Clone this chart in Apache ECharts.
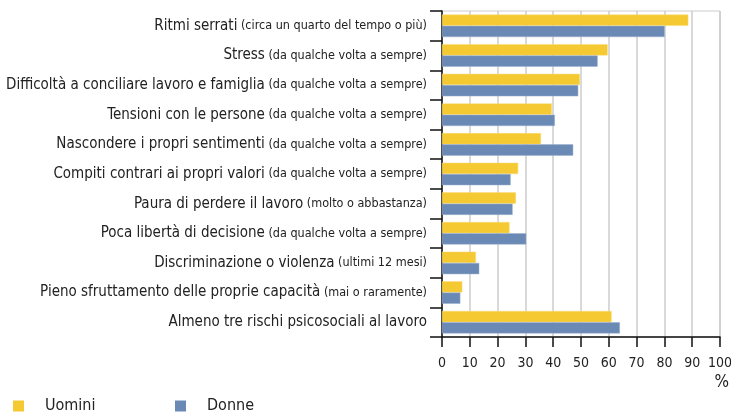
<!DOCTYPE html>
<html>
<head>
<meta charset="utf-8">
<script src="https://cdn.jsdelivr.net/npm/echarts@6/dist/echarts.min.js"></script>
<style>
  html, body { margin: 0; padding: 0; background: #fff; }
  #main { width: 731px; height: 412px; }
</style>
</head>
<body>
<div id="main"></div>
<script>
// categorie (dall'alto verso il basso)
var labels = [
  'Ritmi serrati',
  'Stress',
  'Difficoltà a conciliare lavoro e famiglia',
  'Tensioni con le persone',
  'Nascondere i propri sentimenti',
  'Compiti contrari ai propri valori',
  'Paura di perdere il lavoro',
  'Poca libertà di decisione',
  'Discriminazione o violenza',
  'Pieno sfruttamento delle proprie capacità',
  'Almeno tre rischi psicosociali al lavoro'
];
var notes = [
  '(circa un quarto del tempo o più)',
  '(da qualche volta a sempre)',
  '(da qualche volta a sempre)',
  '(da qualche volta a sempre)',
  '(da qualche volta a sempre)',
  '(da qualche volta a sempre)',
  '(molto o abbastanza)',
  '(da qualche volta a sempre)',
  '(ultimi 12 mesi)',
  '(mai o raramente)',
  ''
];
var uomini = [88.6, 59.6, 49.6, 39.5, 35.6, 27.4, 26.6, 24.3, 12.2, 7.3, 61];
var donne  = [80.1, 56, 49, 40.6, 47.2, 24.7, 25.4, 30.3, 13.4, 6.6, 64];
var xTicks = [0, 10, 20, 30, 40, 50, 60, 70, 80, 90, 100];

var font = "'Liberation Sans Narrow', 'DejaVu Sans Condensed', sans-serif";
var cats = labels.map(function (l, i) { return i; });

var myChart = echarts.init(document.getElementById('main'));

var option = {
  animation: false,
  color: ['#F5C932', '#6A8AB5'],
  textStyle: { fontFamily: font },
  title: {
    text: '%',
    right: -3,
    top: 369,
    textStyle: { fontFamily: font, fontSize: 17, fontWeight: 'normal', color: '#222' }
  },
  legend: [
    {
      left: 8, top: 393,
      itemWidth: 11, itemHeight: 11, itemGap: 0,
      icon: 'rect',
      itemStyle: { borderWidth: 0 },
      data: ['Uomini'],
      textStyle: { fontFamily: font, fontSize: 16, color: '#222', padding: [0, 0, 0, 16] }
    },
    {
      left: 170, top: 393,
      itemWidth: 11, itemHeight: 11, itemGap: 0,
      icon: 'rect',
      itemStyle: { borderWidth: 0 },
      data: ['Donne'],
      textStyle: { fontFamily: font, fontSize: 16, color: '#222', padding: [0, 0, 0, 16] }
    }
  ],
  grid: {
    left: 442, right: 11, top: 11, bottom: 75,
    outerBoundsMode: 'none',
    containLabel: false,
    show: true, borderColor: '#ccc', borderWidth: 1
  },
  xAxis: {
    type: 'value',
    min: 0, max: 100, interval: 10,
    axisLine: { show: true, lineStyle: { color: '#111', width: 1.5 } },
    axisTick: { show: true, length: 10, lineStyle: { color: '#111', width: 1.5 } },
    axisLabel: {
      margin: 19, fontFamily: font, fontSize: 14, color: '#222',
      formatter: function (v) { return xTicks.indexOf(v) >= 0 ? String(v) : ''; }
    },
    splitLine: { show: true, lineStyle: { color: '#ccc', width: 1.5 } }
  },
  yAxis: {
    type: 'category',
    inverse: true,
    data: cats,
    axisLine: { show: true, lineStyle: { color: '#111', width: 1.5 } },
    axisTick: { show: true, length: 12, lineStyle: { color: '#111', width: 1.5 } },
    axisLabel: {
      margin: 15,
      formatter: function (i) {
        var s = '{m|' + labels[i] + '}';
        if (notes[i]) s += '{n| ' + notes[i] + '}';
        return s;
      },
      rich: {
        m: { fontFamily: font, fontSize: 15, color: '#222' },
        n: { fontFamily: font, fontSize: 12.5, color: '#222' }
      }
    }
  },
  series: [
    {
      name: 'Uomini', type: 'bar', data: uomini,
      barGap: '0%', barCategoryGap: '24%',
      itemStyle: { borderColor: '#F9DC7A', borderWidth: 0.5 }
    },
    {
      name: 'Donne', type: 'bar', data: donne,
      barGap: '0%', barCategoryGap: '24%',
      itemStyle: { borderColor: '#9DB1CE', borderWidth: 0.5 }
    }
  ]
};

myChart.setOption(option);
</script>
</body>
</html>
